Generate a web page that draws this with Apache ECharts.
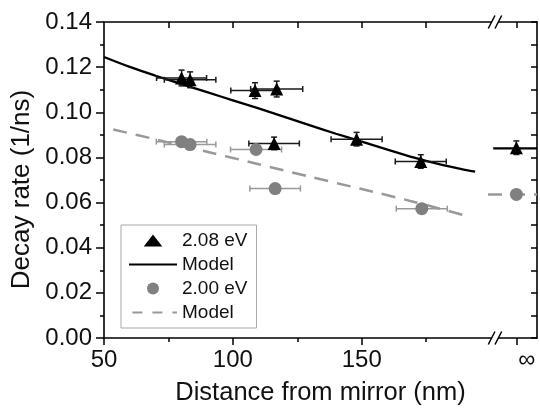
<!DOCTYPE html>
<html>
<head>
<meta charset="utf-8">
<script src="https://cdn.jsdelivr.net/npm/echarts@6/dist/echarts.min.js"></script>
<style>
html,body{margin:0;padding:0;background:#fff;}
#chart{width:540px;height:411px;}
</style>
</head>
<body>
<div id="chart"></div>
<script>
// ---- data ----
const INF_X = 210;          // axis position used for the "infinity" points
const INF_LABEL_X = 214;    // where the ∞ label sits
const X_MIN = 50, X_MAX = 218;

const triX    = [80.1, 83.4, 108.6, 117.0, 116.0, 148.0, 172.9];
const triY    = [0.1152, 0.1144, 0.1096, 0.1103, 0.0862, 0.0881, 0.0782];
const triXErr = [9.7, 10.0, 9.4, 10.1, 9.8, 9.9, 9.9];
const triYErr = [0.0035, 0.0035, 0.0035, 0.0035, 0.0028, 0.003, 0.003];
const triInfY = 0.0843;

const cirX    = [80.1, 83.4, 109.0, 116.4, 173.3];
const cirY    = [0.0870, 0.0857, 0.0835, 0.0662, 0.0573];
const cirXErr = [9.8, 10.0, 9.9, 9.8, 9.9];
const cirYErr = [0.002, 0.002, 0.002, 0.002, 0.002];
const cirInfY = 0.0636;

const modelAX = [50, 60, 70, 80, 90, 100, 110, 120, 130, 140, 150, 160, 170, 180, 190, 194];
const modelAY = [0.1245, 0.1201, 0.1162, 0.1125, 0.1089, 0.1053, 0.1017, 0.0980, 0.0942, 0.0905, 0.0870, 0.0835, 0.0800, 0.0770, 0.0745, 0.0737];
const modelAInfX = [201, 218];
const modelAInfY = [0.0840, 0.0840];

const modelBX = [53.6, 70, 90, 110, 130, 150, 170, 190.7];
const modelBY = [0.0924, 0.0880, 0.0825, 0.0770, 0.0714, 0.0660, 0.0604, 0.0541];
const modelBInfX = [199, 218];
const modelBInfY = [0.0636, 0.0636];

const xLabelValues = [50, 100, 150, INF_LABEL_X];
const xMajorTicks = [50, 100, 150, INF_X];
const xMinorTicks = [75, 125, 175];
const xTopTicks = [75, 100, 125, 150, 175, INF_X];
const breakX = 201.7;
const breakY = [0, 0.14];

const legendNames = ['2.08 eV', 'Model', '2.00 eV', 'Model '];

// ---- build ----
const FONT = 'Liberation Sans, Arial, Helvetica, sans-serif';
const zip = (a, b) => a.map((v, i) => [v, b[i]]);

const triData = zip(triX, triY).concat([[INF_X, triInfY]]);
const cirData = zip(cirX, cirY).concat([[INF_X, cirInfY]]);
const triErr = triX.map((x, i) => [x, triY[i], triXErr[i], triYErr[i]]).concat([[INF_X, triInfY, 0, 0.003]]);
const cirErr = cirX.map((x, i) => [x, cirY[i], cirXErr[i], cirYErr[i]]);

function errRender(color) {
  return function (params, api) {
    const x = api.value(0), y = api.value(1), xe = api.value(2), ye = api.value(3);
    const l = api.coord([x - xe, y]), r = api.coord([x + xe, y]);
    const t = api.coord([x, y + ye]), b = api.coord([x, y - ye]);
    const cap = 3;
    const style = { stroke: color, lineWidth: 1.5, fill: null };
    const ch = [];
    if (xe > 0) {
      ch.push({ type: 'line', shape: { x1: l[0], y1: l[1], x2: r[0], y2: r[1] }, style });
      ch.push({ type: 'line', shape: { x1: l[0], y1: l[1] - cap, x2: l[0], y2: l[1] + cap }, style });
      ch.push({ type: 'line', shape: { x1: r[0], y1: r[1] - cap, x2: r[0], y2: r[1] + cap }, style });
    }
    if (ye > 0) {
      ch.push({ type: 'line', shape: { x1: t[0], y1: t[1], x2: b[0], y2: b[1] }, style });
      ch.push({ type: 'line', shape: { x1: t[0] - cap, y1: t[1], x2: t[0] + cap, y2: t[1] }, style });
      ch.push({ type: 'line', shape: { x1: b[0] - cap, y1: b[1], x2: b[0] + cap, y2: b[1] }, style });
    }
    return { type: 'group', children: ch };
  };
}

function breakRender(params, api) {
  const p = api.coord([api.value(0), api.value(1)]);
  const w = 6.7, h = 6.5;
  const px = p[0], py = p[1];
  return {
    type: 'group',
    children: [
      { type: 'polygon', shape: { points: [[px - w, py + h], [px, py - h], [px + w, py - h], [px, py + h]] }, style: { fill: '#fff' } },
      { type: 'line', shape: { x1: px - w, y1: py + h, x2: px, y2: py - h }, style: { stroke: '#000', lineWidth: 1.5 } },
      { type: 'line', shape: { x1: px, y1: py + h, x2: px + w, y2: py - h }, style: { stroke: '#000', lineWidth: 1.5 } }
    ]
  };
}

const axisLine = { show: true, onZero: false, lineStyle: { color: '#000', width: 1.6 } };

const option = {
  animation: false,
  backgroundColor: '#fff',
  textStyle: { fontFamily: FONT },
  grid: { left: 104, right: 3, top: 22, bottom: 69, containLabel: false },
  legend: {
    left: 121, top: 225,
    orient: 'vertical',
    itemWidth: 48, itemHeight: 12, itemGap: 5,
    padding: [6, 9, 6, 7],
    borderColor: '#a8a8a8', borderWidth: 1,
    selectedMode: false,
    textStyle: { fontFamily: FONT, fontSize: 19, color: '#111' },
    formatter: n => n.trim(),
    data: [
      { name: legendNames[0], icon: 'path://M8.5,0 L17,11 L0,11 Z' },
      { name: legendNames[1], itemStyle: { opacity: 0 } },
      { name: legendNames[2], icon: 'circle' },
      { name: legendNames[3], itemStyle: { opacity: 0 }, lineStyle: { type: [10, 10], dashOffset: 16.6 } }
    ]
  },
  xAxis: [
    {
      type: 'value', position: 'bottom', min: X_MIN, max: X_MAX,
      name: 'Distance from mirror (nm)', nameLocation: 'middle', nameGap: 42,
      nameTextStyle: { fontFamily: FONT, fontSize: 25.5, color: '#111' },
      axisLine,
      axisTick: { show: true, customValues: xMajorTicks, length: 7, inside: false, lineStyle: { color: '#000', width: 1.5 } },
      axisLabel: {
        customValues: xLabelValues, margin: 10,
        fontFamily: FONT, fontSize: 24, color: '#111',
        formatter: v => (v === INF_LABEL_X ? '\u221E' : String(v))
      },
      splitLine: { show: false }
    },
    {
      type: 'value', position: 'bottom', min: X_MIN, max: X_MAX,
      axisLine: { show: false },
      axisTick: { show: true, customValues: xMinorTicks, length: 4, inside: false, lineStyle: { color: '#000', width: 1.5 } },
      axisLabel: { show: false },
      splitLine: { show: false }
    },
    {
      type: 'value', position: 'top', min: X_MIN, max: X_MAX,
      axisLine,
      axisTick: { show: true, customValues: xTopTicks, length: 6, inside: true, lineStyle: { color: '#000', width: 1.5 } },
      axisLabel: { show: false },
      splitLine: { show: false }
    }
  ],
  yAxis: [
    {
      type: 'value', position: 'left', min: 0, max: 0.14, interval: 0.02,
      name: 'Decay rate (1/ns)', nameLocation: 'middle', nameGap: 69,
      nameTextStyle: { fontFamily: FONT, fontSize: 26, color: '#111', padding: [0, 19, 0, 0] },
      axisLine,
      axisTick: { show: true, length: 8, inside: false, lineStyle: { color: '#000', width: 1.5 } },
      minorTick: { show: true, splitNumber: 2, length: 4, lineStyle: { color: '#000', width: 1.5 } },
      axisLabel: { margin: 12, fontFamily: FONT, fontSize: 24, color: '#111', formatter: v => v.toFixed(2) },
      splitLine: { show: false }
    },
    {
      type: 'value', position: 'right', min: 0, max: 0.14, interval: 0.01,
      axisLine,
      axisTick: { show: true, length: 6, inside: true, lineStyle: { color: '#000', width: 1.5 } },
      axisLabel: { show: false },
      splitLine: { show: false }
    }
  ],
  series: [
    {
      name: legendNames[1], type: 'line', symbol: 'none', z: 3,
      data: zip(modelAX, modelAY), smooth: 0.3,
      lineStyle: { color: '#000', width: 2.3 }, itemStyle: { color: '#000' }
    },
    {
      name: 'modelAInf', type: 'line', symbol: 'none', z: 3,
      data: zip(modelAInfX, modelAInfY),
      lineStyle: { color: '#000', width: 2.3 }
    },
    {
      name: legendNames[3], type: 'line', symbol: 'none', z: 3,
      data: zip(modelBX, modelBY), smooth: 0.3,
      lineStyle: { color: '#999', width: 2.5, type: [14, 9] }, itemStyle: { color: '#999' }
    },
    {
      name: 'modelBInf', type: 'line', symbol: 'none', z: 3,
      data: zip(modelBInfX, modelBInfY),
      lineStyle: { color: '#999', width: 2.5, type: [14, 9] }
    },
    {
      name: 'triErr', type: 'custom', z: 4,
      encode: { x: 0, y: 1 },
      data: triErr, renderItem: errRender('#1a1a1a')
    },
    {
      name: 'cirErr', type: 'custom', z: 4,
      encode: { x: 0, y: 1 },
      data: cirErr, renderItem: errRender('#999')
    },
    {
      name: legendNames[2], type: 'scatter', symbol: 'circle', symbolSize: 13, z: 5,
      data: cirData, itemStyle: { color: '#808080', opacity: 1 }
    },
    {
      name: legendNames[0], type: 'scatter', symbol: 'triangle', symbolSize: 13, z: 6,
      data: triData, itemStyle: { color: '#000', opacity: 1 }
    },
    {
      name: 'breaks', type: 'custom', z: 10, clip: false,
      encode: { x: 0, y: 1 },
      data: breakY.map(y => [breakX, y]), renderItem: breakRender
    }
  ]
};

const chart = echarts.init(document.getElementById('chart'), null, { renderer: 'canvas' });
chart.setOption(option);
</script>
</body>
</html>
